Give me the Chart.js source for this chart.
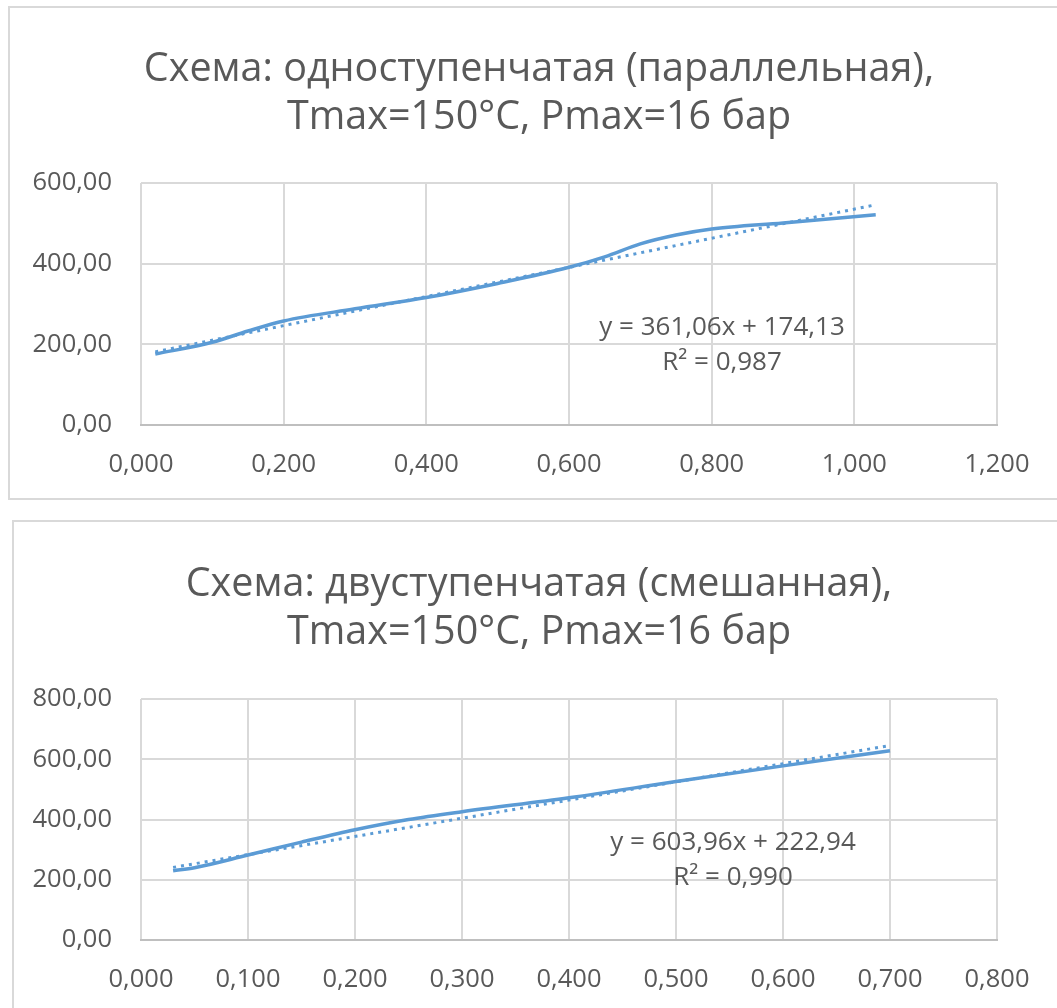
<!DOCTYPE html>
<html>
<head>
<meta charset="utf-8">
<script src="https://cdn.jsdelivr.net/npm/chart.js@4.4.1/dist/chart.umd.min.js"></script>
<style>
  html, body { margin: 0; padding: 0; background: #fff; overflow: hidden; width: 1057px; height: 1008px; }
  .box { position: absolute; border: 2px solid #d9d9d9; background: #fff; }
  #box1 { left: 8px; top: 6px; width: 1058px; height: 490px; }
  #box2 { left: 12px; top: 520px; width: 1050px; height: 490px; }
  canvas { display: block; }
</style>
</head>
<body>
<div class="box" id="box1"><canvas id="chart1" width="1058" height="490"></canvas></div>
<div class="box" id="box2"><canvas id="chart2" width="1050" height="490"></canvas></div>
<script>
// chart 1: single-stage (parallel)
const x1 = [0.02, 0.10, 0.15, 0.20, 0.30, 0.40, 0.50, 0.60, 0.65, 0.70, 0.75, 0.80, 0.90, 1.03];
const y1 = [176, 205, 233, 258, 288, 316, 351, 391, 417, 449, 471, 486, 501, 521];
const trend1 = { slope: 361.06, intercept: 174.13, r2: '0,987' };
const title1 = ['Схема: одноступенчатая (параллельная),', 'Tmax=150°C, Pmax=16 бар'];
const yTicks1 = { max: 600, step: 200 };
const xTicks1 = { max: 1.2, step: 0.2 };

// chart 2: two-stage (mixed)
const x2 = [0.03, 0.05, 0.10, 0.15, 0.20, 0.25, 0.30, 0.40, 0.50, 0.60, 0.70];
const y2 = [230, 240, 282, 325, 366, 400, 426, 472, 526, 578, 628];
const trend2 = { slope: 603.96, intercept: 222.94, r2: '0,990' };
const title2 = ['Схема: двуступенчатая (смешанная),', 'Tmax=150°C, Pmax=16 бар'];
const yTicks2 = { max: 800, step: 200 };
const xTicks2 = { max: 0.8, step: 0.1 };

const blue = '#5b9bd5';
const textCol = '#595959';
const gridCol = '#d9d9d9';
const fontFam = '"Open Sans", "Noto Sans", sans-serif';

function fmt(v, d) {
  return v.toFixed(d).replace('.', ',');
}

// title centred on the whole box, and the trend equation inside the plot
const labels = {
  id: 'labels',
  afterDatasetsDraw(chart, args, opts) {
    const ctx = chart.ctx;
    const a = chart.chartArea;
    ctx.save();
    ctx.fillStyle = textCol;
    ctx.textAlign = 'center';
    ctx.textBaseline = 'middle';
    ctx.font = '39.5px ' + fontFam;
    opts.title.forEach((t, i) => ctx.fillText(t, chart.width / 2, opts.titleY + i * 48));
    ctx.font = '26px ' + fontFam;
    const cx = a.left + opts.cx;
    const cy = a.top + opts.cy;
    ctx.fillText(opts.eq, cx, cy);
    ctx.fillText('R² = ' + opts.r2, cx, cy + 35);
    ctx.restore();
  }
};

function makeChart(id, xs, ys, trend, title, yT, xT, pad, eqPos) {
  const pts = xs.map((x, i) => ({ x: x, y: ys[i] }));
  const xa = xs[0], xb = xs[xs.length - 1];
  const tr = [
    { x: xa, y: trend.slope * xa + trend.intercept },
    { x: xb, y: trend.slope * xb + trend.intercept }
  ];
  const eq = 'y = ' + fmt(trend.slope, 2) + 'x + ' + fmt(trend.intercept, 2);
  return new Chart(document.getElementById(id), {
    type: 'scatter',
    data: {
      datasets: [
        {
          data: tr, showLine: true, borderColor: blue, borderWidth: 3,
          borderDash: [3, 5], pointRadius: 0, order: 0
        },
        {
          data: pts, showLine: true, borderColor: blue, borderWidth: 3.5,
          tension: 0.4, cubicInterpolationMode: 'monotone', pointRadius: 0, order: 1
        }
      ]
    },
    options: {
      responsive: false,
      animation: false,
      layout: { padding: { left: 0, right: pad.right, top: pad.top, bottom: 0 } },
      plugins: {
        legend: { display: false },
        tooltip: { enabled: false },
        title: { display: false },
        labels: { title: title, titleY: pad.titleY, eq: eq, r2: trend.r2, cx: eqPos.cx, cy: eqPos.cy }
      },
      scales: {
        x: {
          type: 'linear', min: 0, max: xT.max,
          afterBuildTicks(s) {
            s.ticks = [];
            for (let i = 0; i <= Math.round(xT.max / xT.step); i++) s.ticks.push({ value: i * xT.step });
          },
          afterFit(s) { s.height = pad.xh; },
          grid: { color: gridCol, lineWidth: 2, drawTicks: false },
          border: { color: '#bfbfbf', width: 2 },
          ticks: { color: textCol, font: { family: fontFam, size: 25.5 }, padding: 24, maxRotation: 0,
            callback: v => fmt(v, 3) }
        },
        y: {
          min: 0, max: yT.max,
          afterBuildTicks(s) {
            s.ticks = [];
            for (let v = 0; v <= yT.max; v += yT.step) s.ticks.push({ value: v });
          },
          afterFit(s) { s.width = pad.yw; },
          grid: { color: gridCol, lineWidth: 2, drawTicks: false },
          border: { display: false },
          ticks: { color: textCol, font: { family: fontFam, size: 25.5 }, padding: 29,
            callback: v => fmt(v, 2) }
        }
      }
    },
    plugins: [labels]
  });
}

makeChart('chart1', x1, y1, trend1, title1, yTicks1, xTicks1,
  { right: 71, top: 175, titleY: 62, xh: 73, yw: 131 }, { cx: 581, cy: 145 });
makeChart('chart2', x2, y2, trend2, title2, yTicks2, xTicks2,
  { right: 67, top: 177, titleY: 63, xh: 72, yw: 127 }, { cx: 592, cy: 144 });
</script>
</body>
</html>
